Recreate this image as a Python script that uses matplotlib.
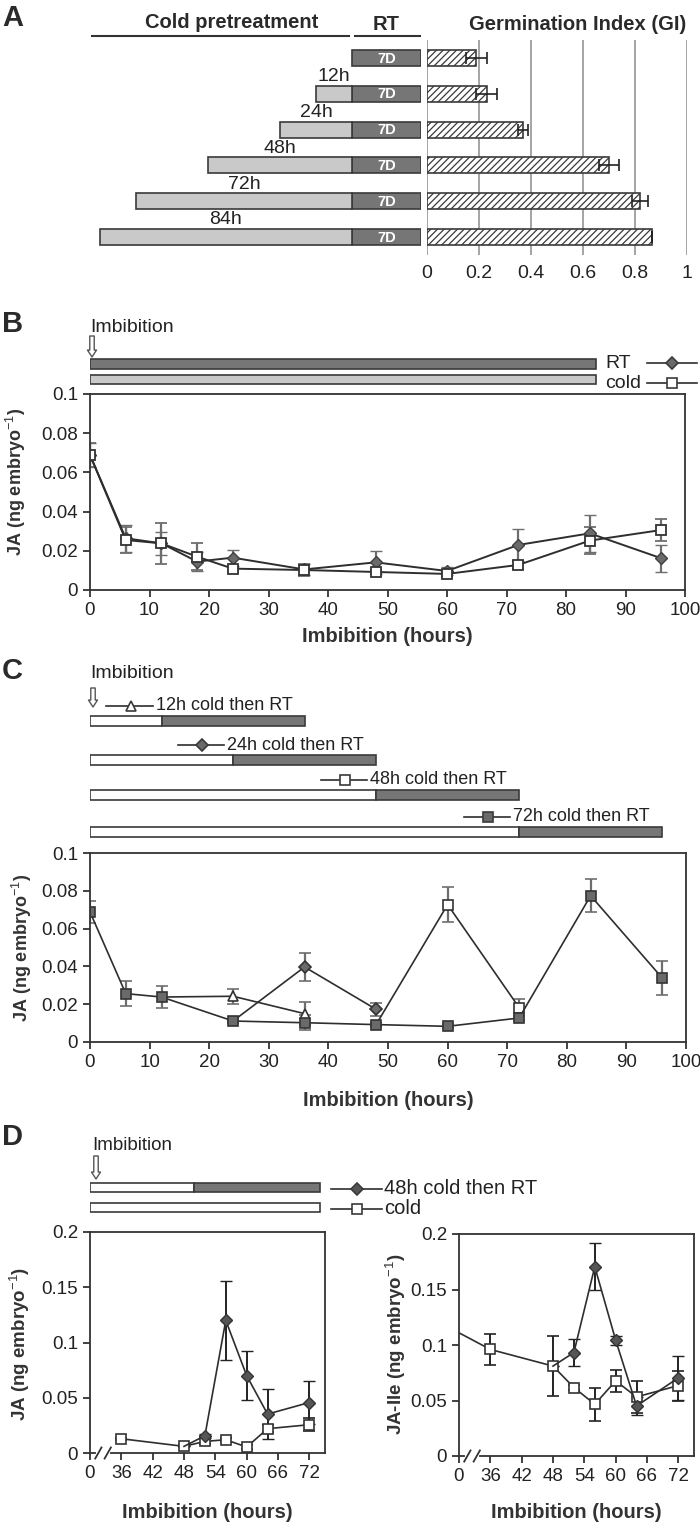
import numpy as np
import matplotlib
matplotlib.use('Agg')
import matplotlib.pyplot as plt
from matplotlib.lines import Line2D
from matplotlib.patches import FancyArrowPatch

plt.rcParams['font.family'] = ['Liberation Sans', 'DejaVu Sans']
plt.rcParams['mathtext.fontset'] = 'custom'
plt.rcParams['mathtext.rm'] = 'Liberation Sans'
plt.rcParams['mathtext.bf'] = 'Liberation Sans:bold'
plt.rcParams['hatch.color'] = '#3a3a3a'
plt.rcParams['hatch.linewidth'] = 0.9
NARROW = ['Liberation Sans Narrow', 'Liberation Sans', 'DejaVu Sans']

# ---------------- data ----------------
# A: cold pretreatment (h) before 7 days RT, germination index
cold_hours = [0, 12, 24, 48, 72, 84]
cold_labels = ['', '12h', '24h', '48h', '72h', '84h']
gi = [0.19, 0.23, 0.37, 0.70, 0.82, 0.865]
gi_err = [0.04, 0.04, 0.02, 0.04, 0.03, 0.0]
gi_ticks = [0, 0.2, 0.4, 0.6, 0.8, 1.0]
gi_ticklabels = ['0', '0.2', '0.4', '0.6', '0.8', '1']

# B: JA at RT or in cold
b_hours = [0, 6, 12, 18, 24, 36, 48, 60, 72, 84, 96]
b_rt = [0.0689, 0.0264, 0.0238, 0.0145, 0.0165, 0.0105, 0.0141, 0.0097, 0.0230, 0.0289, 0.0162]
b_rt_err = [0.006, 0.007, 0.006, 0.005, 0.004, 0.003, 0.006, 0.002, 0.008, 0.0094, 0.007]
b_cold = [0.0689, 0.0255, 0.0238, 0.0170, 0.0109, 0.0102, 0.0092, 0.0082, 0.0128, 0.0252, 0.0306]
b_cold_err = [0.006, 0.0065, 0.0106, 0.007, 0.001, 0.003, 0.001, 0.001, 0.002, 0.0068, 0.0055]
b_treat_end = 85

# C: cold then RT transfers
c_cold_hours = [12, 24, 48, 72]
c_rt_hours = 24
c72_hours = [0, 6, 12, 24, 36, 48, 60, 72, 84, 96]
c72 = [0.0688, 0.0256, 0.0238, 0.0111, 0.0102, 0.0092, 0.0083, 0.0127, 0.0774, 0.0339]
c72_err = [0.006, 0.0065, 0.0057, 0.001, 0.004, 0.001, 0.001, 0.001, 0.0088, 0.0088]
c12_hours = [12, 24, 36]
c12 = [0.0238, 0.0242, 0.0150]
c12_err = [0.0, 0.004, 0.006]
c24_hours = [24, 36, 48]
c24 = [0.0111, 0.0397, 0.0173]
c24_err = [0.0, 0.0074, 0.0034]
c48_hours = [48, 60, 72]
c48 = [0.0092, 0.0727, 0.0182]
c48_err = [0.0, 0.0093, 0.0046]

# D: 48h cold then RT vs cold, JA and JA-Ile
d_cold_hours = [36, 48, 52, 56, 60, 64, 72]
d_ja_cold = [0.0129, 0.0060, 0.0105, 0.0120, 0.0054, 0.0220, 0.0256]
d_ja_cold_err = [0.001, 0.001, 0.002, 0.002, 0.002, 0.003, 0.006]
d_rt_hours = [48, 52, 56, 60, 64, 72]
d_ja_rt = [0.0060, 0.0156, 0.1200, 0.0700, 0.0352, 0.0457]
d_ja_rt_err = [0.0, 0.002, 0.0355, 0.022, 0.0225, 0.0196]
d_ile_cold_hours = [0, 36, 48, 52, 56, 60, 64, 72]
d_ile_cold = [0.111, 0.096, 0.081, 0.0617, 0.0466, 0.0677, 0.0532, 0.0635]
d_ile_cold_err = [0.0, 0.014, 0.027, 0.002, 0.015, 0.010, 0.0145, 0.0135]
d_ile_rt = [0.081, 0.0932, 0.1705, 0.1044, 0.0451, 0.0704]
d_ile_rt_err = [0.0, 0.012, 0.021, 0.004, 0.008, 0.020]

bc_xticks = list(range(0, 101, 10))
bc_yticks = [0, 0.02, 0.04, 0.06, 0.08, 0.1]
bc_yticklabels = ['0', '0.02', '0.04', '0.06', '0.08', '0.1']
d_xticks = [0, 36, 42, 48, 54, 60, 66, 72]
d_yticks = [0, 0.05, 0.1, 0.15, 0.2]
d_yticklabels = ['0', '0.05', '0.1', '0.15', '0.2']

# ---------------- style ----------------
DARK = '#767676'
LIGHT = '#c9c9c9'
EDGE = '#3a3a3a'
LINE = '#2e2e2e'
MDARK = '#6a6a6a'
ERR = '#6e6e6e'
TXT = '#222222'
LBL = '#333333'

W, H = 700, 1524
fig = plt.figure(figsize=(7, 15.24), dpi=100)


def box(x0, y0, x1, y1, **kw):
    return fig.add_axes([x0 / W, 1 - y1 / H, (x1 - x0) / W, (y1 - y0) / H], **kw)


ov = box(0, 0, W, H)
ov.set_xlim(0, W)
ov.set_ylim(H, 0)
ov.axis('off')
ov.set_zorder(10)


def key(x0, x1, y, marker, fc, ms):
    xs = [x0, (x0 + x1) / 2, x1]
    ov.add_line(Line2D(xs, [y] * 3, color=LINE, lw=1.2, marker=marker, markevery=[1],
                       mfc=fc, mec=EDGE, ms=ms, mew=1.2))


def arrow(x, y0, y1):
    ov.add_patch(FancyArrowPatch((x, y0), (x, y1), arrowstyle='simple,head_length=5,head_width=6.5,tail_width=3.2',
                                 shrinkA=0, shrinkB=0, fc='white', ec='#555555', lw=1))


def style_plot(ax, family, size):
    for s in ax.spines.values():
        s.set_color('#333333')
        s.set_linewidth(1.3)
    ax.tick_params(direction='out', length=5, width=1.3, color='#333333', labelsize=size,
                   labelfontfamily=family, labelcolor=TXT)


def letter(x, y, t):
    ov.text(x, y, t, fontsize=21, fontweight='bold', va='center', ha='left', color='#2a2a2a')


# ---------------- panel A ----------------
letter(2, 18, 'A')
ov.text(232, 23, 'Cold pretreatment', fontsize=14.5, fontweight='bold', ha='center', va='center', color='#2a2a2a')
ov.text(386, 24, 'RT', fontsize=14.5, fontweight='bold', ha='center', va='center', color='#2a2a2a')
ov.text(578, 24, 'Germination Index (GI)', fontsize=14.5, fontweight='bold', ha='center', va='center', color='#2a2a2a')
ov.add_line(Line2D([92, 349], [36, 36], color='#333333', lw=1.5))
ov.add_line(Line2D([355, 420], [36, 36], color='#333333', lw=1.5))

RT_W = 23  # width of the 7D block, in hour units of the schematic
rows = np.arange(len(cold_hours))
axL = box(61, 40, 421, 255)
axL.set_xlim(-97, RT_W)
axL.set_ylim(5.5, -0.5)
axL.axis('off')
axL.barh(rows, RT_W, left=0, height=0.45, color=DARK, edgecolor=EDGE, lw=1.2)
ch = np.array(cold_hours)
m = ch > 0
axL.barh(rows[m], ch[m], left=-ch[m], height=0.45, color=LIGHT, edgecolor=EDGE, lw=1.2)
for r, h, lab in zip(rows, cold_hours, cold_labels):
    axL.text(RT_W / 2, r + 0.02, '7D', color='white', fontsize=10.5, fontweight='bold', ha='center', va='center')
    if lab:
        axL.text(-h / 2, r - 0.24, lab, fontsize=14, family=NARROW, ha='center', va='bottom', color=TXT)

axG = box(427, 40, 687, 255)
axG.set_xlim(0, 1)
axG.set_ylim(5.5, -0.5)
for s in axG.spines.values():
    s.set_visible(False)
axG.set_xticks(gi_ticks)
axG.set_xticklabels(gi_ticklabels)
axG.set_yticks([])
axG.grid(axis='x', color='#8c8c8c', lw=1.1)
axG.set_axisbelow(True)
axG.tick_params(axis='x', length=0, pad=7, labelsize=14, labelfontfamily=NARROW, labelcolor=TXT)
axG.barh(rows, gi, height=0.45, color='white', edgecolor=EDGE, lw=1.2, hatch='/////',
         xerr=gi_err, error_kw=dict(ecolor='#222222', elinewidth=1.2, capsize=4, capthick=1.2))

# ---------------- panel B ----------------
letter(2, 324, 'B')
ov.text(90, 327, 'Imbibition', fontsize=14, family=NARROW, ha='left', va='center', color=TXT)
arrow(92, 336, 357)

axB = box(90, 394, 685, 590)
axBs = box(90, 355, 685, 390, sharex=axB)
axBs.set_ylim(390, 355)
axBs.axis('off')
axBs.barh(364, b_treat_end, left=0, height=10, color=DARK, edgecolor=EDGE, lw=1.2)
axBs.barh(379.5, b_treat_end, left=0, height=9, color=LIGHT, edgecolor=EDGE, lw=1.2)
ov.text(605, 363, 'RT', fontsize=14, family=NARROW, va='center', ha='left', color=TXT)
ov.text(605, 383, 'cold', fontsize=14, family=NARROW, va='center', ha='left', color=TXT)
key(647, 697, 363, 'D', MDARK, 6)
key(647, 697, 383, 's', 'white', 7.5)

ekw = dict(ecolor=ERR, elinewidth=1.6, capsize=4, capthick=1.6)
axB.errorbar(b_hours, b_rt, yerr=b_rt_err, fmt='-D', color=LINE, lw=1.4, mfc=MDARK, mec='#404040',
             ms=6, mew=1, **ekw)
axB.errorbar(b_hours, b_cold, yerr=b_cold_err, fmt='-s', color=LINE, lw=1.4, mfc='white', mec='#333333',
             ms=7.5, mew=1.3, **ekw)
axB.set_xlim(0, 100)
axB.set_ylim(0, 0.1)
axB.set_xticks(bc_xticks)
axB.set_yticks(bc_yticks)
axB.set_yticklabels(bc_yticklabels)
style_plot(axB, NARROW, 13.5)
ov.text(387, 636, 'Imbibition (hours)', fontsize=14.5, fontweight='bold', ha='center', va='center', color=LBL)
ov.text(16, 482, r'JA (ng embryo$^{-1}$)', fontsize=13, fontweight='bold', rotation=90, ha='center',
        va='center', color=LBL)

# ---------------- panel C ----------------
letter(2, 671, 'C')
ov.text(90, 673, 'Imbibition', fontsize=14, family=NARROW, ha='left', va='center', color=TXT)
arrow(93, 688, 707)

axC = box(90, 853, 686, 1042)
axCs = box(90, 690, 686, 840, sharex=axC)
axCs.set_ylim(840, 690)
axCs.axis('off')
c_rows_y = [721, 760, 794.5, 831.5]
c_keys = [('^', 'white', 7), ('D', MDARK, 6), ('s', 'white', 7.5), ('s', MDARK, 7.5)]
for y, ch_, (mk, fc, ms) in zip(c_rows_y, c_cold_hours, c_keys):
    end = ch_ + c_rt_hours
    axCs.barh(y, ch_, left=0, height=10, color='white', edgecolor=EDGE, lw=1.2)
    axCs.barh(y, c_rt_hours, left=ch_, height=10, color=DARK, edgecolor=EDGE, lw=1.2)
    tx = end - 25
    axCs.text(tx, y - 15, '%dh cold then RT' % ch_, fontsize=13, family=NARROW, ha='left', va='center',
              color=TXT)
    axCs.plot([tx - 8.3, tx - 4.2, tx - 0.5], [y - 15] * 3, color=LINE, lw=1.2, marker=mk, markevery=[1],
              mfc=fc, mec=EDGE, ms=ms, mew=1.2, clip_on=False)

for hrs, vals, err, mk, fc, ms in [(c12_hours, c12, c12_err, '^', 'white', 7),
                                   (c24_hours, c24, c24_err, 'D', MDARK, 6),
                                   (c48_hours, c48, c48_err, 's', 'white', 7.5)]:
    axC.errorbar(hrs, vals, yerr=err, fmt='-' + mk, color=LINE, lw=1.2, mfc=fc, mec='#333333', ms=ms,
                 mew=1.2, markevery=[1, 2], **ekw)
axC.errorbar(c72_hours, c72, yerr=c72_err, fmt='-s', color=LINE, lw=1.2, mfc=MDARK, mec='#333333',
             ms=7.5, mew=1.2, **ekw)
axC.set_xlim(0, 100)
axC.set_ylim(0, 0.1)
axC.set_xticks(bc_xticks)
axC.set_yticks(bc_yticks)
axC.set_yticklabels(bc_yticklabels)
style_plot(axC, NARROW, 13.5)
ov.text(388, 1100, 'Imbibition (hours)', fontsize=14.5, fontweight='bold', ha='center', va='center', color=LBL)
ov.text(22, 948, 'JA (ng embryo$^{-1}$)', fontsize=13, fontweight='bold', rotation=90, ha='center',
        va='center', color=LBL)

# ---------------- panel D ----------------
letter(2, 1137, 'D')
ov.text(92, 1145, 'Imbibition', fontsize=13.5, ha='left', va='center', color=TXT)
arrow(96, 1156, 1179)

ZERO_POS = 30  # the broken x axis draws 0 h at this position


def brk(hours):
    return [ZERO_POS if h == 0 else h for h in hours]


axD1 = box(90, 1232, 325, 1453)
axD2 = box(459, 1234, 694, 1456)
axDs = box(90, 1180, 325, 1215, sharex=axD1)
axDs.set_ylim(1215, 1180)
axDs.axis('off')
D_SPLIT, D_END = 50, 74  # schematic: cold part then RT part
axDs.barh(1187.5, D_SPLIT - ZERO_POS, left=ZERO_POS, height=9, color='white', edgecolor=EDGE, lw=1.2)
axDs.barh(1187.5, D_END - D_SPLIT, left=D_SPLIT, height=9, color=DARK, edgecolor=EDGE, lw=1.2)
axDs.barh(1207, D_END - ZERO_POS, left=ZERO_POS, height=9, color='white', edgecolor=EDGE, lw=1.2)
key(331, 382, 1189, 'D', '#555555', 6.5)
key(331, 382, 1209, 's', 'white', 7.5)
ov.text(384, 1189, '48h cold then RT', fontsize=14.5, ha='left', va='center', color=TXT)
ov.text(384, 1209, 'cold', fontsize=14.5, ha='left', va='center', color=TXT)

ekd = dict(ecolor='#222222', elinewidth=1.4, capsize=4, capthick=1.4)
rt_marks = list(range(1, len(d_rt_hours)))
axD1.errorbar(brk(d_cold_hours), d_ja_cold, yerr=d_ja_cold_err, fmt='-s', color=LINE, lw=1.2, mfc='white',
              mec='#333333', ms=7.5, mew=1.2, **ekd)
axD1.errorbar(brk(d_rt_hours), d_ja_rt, yerr=d_ja_rt_err, fmt='-D', color=LINE, lw=1.2, mfc='#555555',
              mec='#333333', ms=6.5, mew=1, markevery=rt_marks, **ekd)
axD2.plot(brk(d_ile_cold_hours[:2]), d_ile_cold[:2], color=LINE, lw=1.2)
axD2.errorbar(brk(d_ile_cold_hours[1:]), d_ile_cold[1:], yerr=d_ile_cold_err[1:], fmt='-s', color=LINE, lw=1.2,
              mfc='white', mec='#333333', ms=7.5, mew=1.2, **ekd)
axD2.errorbar(brk(d_rt_hours), d_ile_rt, yerr=d_ile_rt_err, fmt='-D', color=LINE, lw=1.2, mfc='#555555',
              mec='#333333', ms=6.5, mew=1, markevery=rt_marks, **ekd)

for ax in (axD1, axD2):
    ax.set_xlim(ZERO_POS, 75)
    ax.set_ylim(0, 0.2)
    ax.set_xticks(brk(d_xticks))
    ax.set_xticklabels([str(t) for t in d_xticks])
    ax.set_yticks(d_yticks)
    ax.set_yticklabels(d_yticklabels)
    style_plot(ax, ['Liberation Sans', 'DejaVu Sans'], 13.5)
    tr = ax.get_xaxis_transform()
    ax.plot([31.6, 33.4], [0, 0], color='white', lw=3, transform=tr, clip_on=False, zorder=5)
    for bx in (31.6, 33.4):
        ax.plot([bx - 0.6, bx + 0.6], [-0.025, 0.025], color='#333333', lw=1.3, transform=tr,
                clip_on=False, zorder=6)

ov.text(207, 1512, 'Imbibition (hours)', fontsize=14.5, fontweight='bold', ha='center', va='center', color=LBL)
ov.text(576, 1512, 'Imbibition (hours)', fontsize=14.5, fontweight='bold', ha='center', va='center', color=LBL)
ov.text(20, 1344, 'JA (ng embryo$^{-1}$)', fontsize=13.5, fontweight='bold', rotation=90, ha='center',
        va='center', color=LBL)
ov.text(396, 1344, 'JA-Ile (ng embryo$^{-1}$)', fontsize=13.5, fontweight='bold', rotation=90, ha='center',
        va='center', color=LBL)

fig.savefig('out.png', dpi=100)
